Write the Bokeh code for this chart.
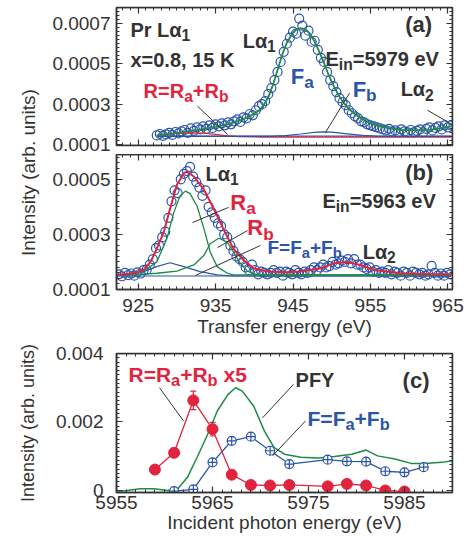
from math import pi
from bokeh.plotting import figure
from bokeh.models import (Range1d, LinearAxis, FixedTicker, Label, CustomJSTickFormatter,
                          Whisker, ColumnDataSource, TeeHead)
from bokeh.layouts import column, row
from bokeh.embed import file_html
from bokeh.resources import INLINE

# ---------------- data ----------------
# panel (a): E_in = 5979 eV
a_energy = [927.4, 927.8, 928.2, 928.6, 929.0, 929.4, 929.8, 930.2,
            930.6, 931.0, 931.4, 931.8, 932.2, 932.6, 933.0, 933.4,
            933.8, 934.2, 934.6, 935.0, 935.4, 935.8, 936.2, 936.6,
            937.0, 937.4, 937.8, 938.2, 938.6, 939.0, 939.4, 939.8,
            940.2, 940.6, 941.0, 941.4, 941.8, 942.2, 942.6, 943.0,
            943.4, 943.8, 944.2, 944.6, 945.0, 945.4, 945.8, 946.2,
            946.6, 947.0, 947.4, 947.8, 948.2, 948.6, 949.0, 949.4,
            949.8, 950.2, 950.6, 951.0, 951.4, 951.8, 952.2, 952.6,
            953.0, 953.4, 953.8, 954.2, 954.6, 955.0, 955.4, 955.8,
            956.2, 956.6, 957.0, 957.4, 957.8, 958.2, 958.6, 959.0,
            959.4, 959.8, 960.2, 960.6, 961.0, 961.4, 961.8, 962.2,
            962.6, 963.0, 963.4, 963.8, 964.2, 964.6, 965.0, 965.4]
a_intensity = [1.45e-4, 1.52e-4, 1.43e-4, 1.50e-4, 1.58e-4, 1.48e-4, 1.62e-4, 1.55e-4,
               1.65e-4, 1.72e-4, 1.58e-4, 1.80e-4, 1.68e-4, 1.85e-4, 1.75e-4, 1.90e-4,
               1.78e-4, 1.95e-4, 1.82e-4, 2.00e-4, 1.90e-4, 2.05e-4, 1.95e-4, 2.10e-4,
               2.00e-4, 2.15e-4, 2.25e-4, 2.12e-4, 2.35e-4, 2.30e-4, 2.50e-4, 2.45e-4,
               2.70e-4, 2.90e-4, 3.00e-4, 3.15e-4, 3.50e-4, 3.80e-4, 4.20e-4, 4.60e-4,
               5.10e-4, 5.60e-4, 6.00e-4, 6.30e-4, 6.60e-4, 6.50e-4, 7.25e-4, 6.90e-4,
               6.40e-4, 6.65e-4, 6.10e-4, 6.15e-4, 5.70e-4, 5.30e-4, 5.10e-4, 4.60e-4,
               4.20e-4, 3.90e-4, 3.60e-4, 3.30e-4, 3.10e-4, 2.95e-4, 2.70e-4, 2.55e-4,
               2.40e-4, 2.30e-4, 2.15e-4, 2.10e-4, 2.00e-4, 1.95e-4, 1.90e-4, 1.85e-4,
               1.80e-4, 1.75e-4, 1.70e-4, 1.78e-4, 1.65e-4, 1.70e-4, 1.60e-4, 1.75e-4,
               1.65e-4, 1.60e-4, 1.72e-4, 1.60e-4, 1.68e-4, 1.75e-4, 1.60e-4, 1.78e-4,
               1.85e-4, 1.70e-4, 1.82e-4, 1.90e-4, 1.75e-4, 1.95e-4, 1.85e-4, 1.95e-4]
a_fit_energy = [927.4, 929, 931, 933, 935, 937, 938.5, 939.5, 940.5, 941.2, 941.8, 942.4,
                943.0, 943.6, 944.2, 944.8, 945.4, 946.0, 946.6, 947.2, 947.8, 948.4,
                949.0, 949.6, 950.2, 950.8, 951.4, 952.0, 953.0, 954.0, 955.0, 956.0,
                957.5, 959.0, 961.0, 963.0, 964.5, 965.4]
a_fit_total = [1.45e-4, 1.53e-4, 1.63e-4, 1.74e-4, 1.87e-4, 2.05e-4, 2.25e-4, 2.42e-4,
               2.65e-4, 2.95e-4, 3.35e-4, 3.95e-4, 4.70e-4, 5.45e-4, 6.05e-4, 6.45e-4,
               6.70e-4, 6.78e-4, 6.72e-4, 6.50e-4, 6.10e-4, 5.60e-4, 5.05e-4, 4.45e-4,
               3.95e-4, 3.50e-4, 3.15e-4, 2.85e-4, 2.50e-4, 2.25e-4, 2.05e-4, 1.92e-4,
               1.80e-4, 1.72e-4, 1.70e-4, 1.75e-4, 1.83e-4, 1.90e-4]
a_r_energy = [927.4, 929, 930.5, 932, 933.5, 935, 936.5, 938, 941, 965.4]
a_r_value = [1.45e-4, 1.52e-4, 1.57e-4, 1.58e-4, 1.56e-4, 1.50e-4, 1.43e-4, 1.39e-4, 1.37e-4, 1.37e-4]
a_fb_energy = [927.4, 942, 944, 946, 948, 949, 950, 952, 954, 956, 965.4]
a_fb_value = [1.40e-4, 1.40e-4, 1.44e-4, 1.52e-4, 1.61e-4, 1.63e-4, 1.61e-4, 1.53e-4, 1.45e-4, 1.41e-4, 1.40e-4]
a_base_energy = [927.4, 965.4]
a_base_value = [1.42e-4, 1.42e-4]

# panel (b): E_in = 5963 eV
b_energy = [922.5, 922.9, 923.3, 923.7, 924.1, 924.5, 924.9, 925.3, 925.7,
            926.1, 926.5, 926.9, 927.3, 927.7, 928.1, 928.5, 928.9, 929.3,
            929.7, 930.1, 930.5, 930.9, 931.3, 931.7, 932.1, 932.5, 932.9,
            933.3, 933.7, 934.1, 934.5, 934.9, 935.3, 935.7, 936.1, 936.5,
            936.9, 937.3, 937.7, 938.1, 938.5, 938.9, 939.3, 939.7, 940.1,
            940.5, 940.9, 941.3, 941.7, 942.1, 942.5, 942.9, 943.3, 943.7,
            944.1, 944.5, 944.9, 945.3, 945.7, 946.1, 946.5, 946.9, 947.3,
            947.7, 948.1, 948.5, 948.9, 949.3, 949.7, 950.1, 950.5, 950.9,
            951.3, 951.7, 952.1, 952.5, 952.9, 953.3, 953.7, 954.1, 954.5,
            954.9, 955.3, 955.7, 956.1, 956.5, 956.9, 957.3, 957.7, 958.1,
            958.5, 958.9, 959.3, 959.7, 960.1, 960.5, 960.9, 961.3, 961.7,
            962.1, 962.5, 962.9, 963.3, 963.7, 964.1, 964.5, 964.9, 965.3]
b_intensity = [1.55e-4, 1.48e-4, 1.60e-4, 1.52e-4, 1.58e-4, 1.50e-4, 1.62e-4, 1.58e-4, 1.70e-4,
               1.72e-4, 1.90e-4, 2.10e-4, 2.50e-4, 2.60e-4, 2.90e-4, 3.10e-4, 3.60e-4, 4.20e-4,
               4.60e-4, 4.50e-4, 5.00e-4, 5.20e-4, 5.30e-4, 5.45e-4, 5.10e-4, 4.90e-4, 4.70e-4,
               4.40e-4, 4.60e-4, 4.00e-4, 3.80e-4, 3.60e-4, 3.40e-4, 3.30e-4, 3.00e-4, 2.90e-4,
               2.60e-4, 2.40e-4, 2.20e-4, 2.10e-4, 2.00e-4, 1.80e-4, 1.70e-4, 1.90e-4, 1.70e-4,
               1.55e-4, 1.65e-4, 1.60e-4, 1.55e-4, 1.60e-4, 1.70e-4, 1.60e-4, 1.65e-4, 1.50e-4,
               1.65e-4, 1.60e-4, 1.55e-4, 1.70e-4, 1.60e-4, 1.55e-4, 1.65e-4, 1.60e-4, 1.70e-4,
               1.80e-4, 1.70e-4, 1.80e-4, 1.90e-4, 1.80e-4, 1.85e-4, 2.00e-4, 1.90e-4, 1.95e-4,
               2.05e-4, 2.00e-4, 2.10e-4, 1.95e-4, 2.10e-4, 1.90e-4, 1.90e-4, 1.80e-4, 1.75e-4,
               1.80e-4, 1.65e-4, 1.70e-4, 1.60e-4, 1.65e-4, 1.60e-4, 1.70e-4, 1.55e-4, 1.65e-4,
               1.60e-4, 1.50e-4, 1.65e-4, 1.60e-4, 1.50e-4, 1.65e-4, 1.60e-4, 1.55e-4, 1.60e-4,
               1.50e-4, 1.55e-4, 1.86e-4, 1.60e-4, 1.50e-4, 1.58e-4, 1.50e-4, 1.60e-4, 1.55e-4]
b_fit_energy = [922.3, 924.4, 925.7, 926.6, 927.4, 928.3, 929.1, 930.0, 930.9, 931.3, 932.2,
                933.5, 934.8, 936.0, 937.3, 938.6, 939.9, 941.7, 944.0, 946.0, 948.6, 950.3,
                952.0, 953.7, 955.5, 958.9, 963.2, 965.4]
b_fit_total = [1.53e-4, 1.59e-4, 1.71e-4, 2.00e-4, 2.48e-4, 3.08e-4, 3.91e-4, 4.80e-4, 5.22e-4,
               5.28e-4, 5.10e-4, 4.62e-4, 3.91e-4, 3.20e-4, 2.48e-4, 2.07e-4, 1.77e-4, 1.65e-4,
               1.63e-4, 1.65e-4, 1.77e-4, 1.95e-4, 2.00e-4, 1.89e-4, 1.71e-4, 1.59e-4, 1.55e-4,
               1.55e-4]
b_ra_energy = [922.3, 923.5, 925.7, 927.4, 928.7, 929.6, 930.4, 931.1, 931.7, 932.6, 933.5,
               934.3, 935.2, 936.5, 937.3, 965.4]
b_ra_value = [1.52e-4, 1.53e-4, 1.67e-4, 2.00e-4, 2.84e-4, 3.79e-4, 4.39e-4, 4.57e-4, 4.48e-4,
              4.03e-4, 3.20e-4, 2.36e-4, 1.83e-4, 1.59e-4, 1.53e-4, 1.53e-4]
b_rb_energy = [922.3, 924.4, 927.4, 930.0, 932.2, 933.5, 934.3, 935.4, 936.5, 937.3, 938.2,
               939.1, 940.4, 965.4]
b_rb_value = [1.52e-4, 1.53e-4, 1.59e-4, 1.67e-4, 1.89e-4, 2.24e-4, 2.66e-4, 2.86e-4, 2.72e-4,
              2.36e-4, 1.95e-4, 1.67e-4, 1.53e-4, 1.53e-4]
b_f_energy = [922.3, 923.5, 925.7, 927.4, 929.1, 930.9, 933.0, 935.2, 937.3, 965.4]
b_f_value = [1.50e-4, 1.53e-4, 1.65e-4, 1.83e-4, 1.97e-4, 1.83e-4, 1.65e-4, 1.53e-4, 1.49e-4, 1.49e-4]
b_base_energy = [922.3, 965.4]
b_base_value = [1.49e-4, 1.49e-4]

# panel (c): intensities vs incident photon energy
c_r_energy = [5959, 5961, 5963, 5965, 5967, 5969, 5971, 5973, 5977, 5979, 5981, 5983, 5985]
c_r_value = [0.00061, 0.0011, 0.00263, 0.00179, 0.00046, 0.00016, 0.000145, 0.00016,
             0.00012, 0.00019, 0.000145, 0.0, -0.00003]
c_r_error = [0.00004, 0.0001, 0.00027, 0.0002, 0.00005, 0.00004, 0.00004, 0.00004,
             0.00004, 0.00004, 0.00004, 0.00004, 0.00004]
c_f_energy = [5961, 5963, 5965, 5967, 5969, 5971, 5973, 5977, 5979, 5981, 5983, 5985, 5987]
c_f_value = [-0.00002, 0.00003, 0.00082, 0.00145, 0.00157, 0.00116, 0.00077, 0.0009,
             0.00085, 0.00084, 0.00056, 0.00053, 0.00068]
pfy_energy = [5955.2, 5956.1, 5957.5, 5958.9, 5960.3, 5961.4, 5962.4, 5963.4, 5964.5, 5965.5,
              5966.6, 5967.4, 5968.1, 5969.3, 5970.4, 5971.4, 5972.5, 5974.2, 5976.0, 5977.7,
              5979.5, 5981.0, 5982.2, 5984.0, 5985.7, 5987.1, 5988.9, 5990.0]
pfy_value = [-0.00002, 0.0, 0.00005, 0.00005, 0.0, 0.00005, 0.00039, 0.00097, 0.00164, 0.00232,
             0.0028, 0.003, 0.0029, 0.00246, 0.00174, 0.00126, 0.00106, 0.00097, 0.00095, 0.00099,
             0.00106, 0.00118, 0.00101, 0.00092, 0.00079, 0.00079, 0.00082, 0.00087]

# tick labels
ab_x_ticks = [925, 935, 945, 955, 965]
a_y_ticks = [0.0001, 0.0003, 0.0005, 0.0007]
b_y_ticks = [0.0001, 0.0003, 0.0005]
c_x_ticks = [5955, 5965, 5975, 5985]
c_y_ticks = [0, 0.002, 0.004]

# ---------------- style ----------------
FONT = "Liberation Sans"
DARK = "#333333"
BLUE = "#2a55a8"
GREEN = "#1e8a45"
RED = "#e2233d"
TEXT_LIFT = 9  # px

BW = {' ': .278, '(': .333, ')': .333, '+': .584, ',': .278, '.': .278, '=': .584,
      'E': .667, 'F': .611, 'K': .722, 'L': .611, 'P': .667, 'R': .722, 'Y': .667,
      'a': .556, 'b': .611, 'c': .556, 'e': .556, 'i': .278, 'n': .611, 'r': .389,
      'V': .667, 'x': .556, 'α': .61}


def tw(s, fs):
    return sum(BW.get(ch, 0.556) for ch in s) * fs


def rich(p, x, y, parts, color, fs):
    off = 0.0
    for txt, sub in parts:
        size = fs * 0.78 if sub else fs
        lead = len(txt) - len(txt.lstrip(" "))
        off += tw(" " * lead, size)
        txt = txt.lstrip(" ")
        dy = TEXT_LIFT - (0.27 * fs if sub else 0)
        p.add_layout(Label(x=x, y=y, x_offset=off, y_offset=dy,
                           text=txt, text_font=FONT, text_font_style="bold",
                           text_font_size=f"{size:.1f}px", text_color=color,
                           text_align="left", text_baseline="alphabetic"))
        off += tw(txt, size)


def style_axis(ax, labels=True, standoff=6):
    ax.axis_line_color = DARK
    ax.axis_line_width = 1.5
    ax.major_tick_in = 6
    ax.major_tick_out = 0
    ax.minor_tick_in = 3
    ax.minor_tick_out = 0
    ax.major_tick_line_color = DARK
    ax.minor_tick_line_color = DARK
    ax.major_tick_line_width = 1.2
    ax.minor_tick_line_width = 1
    ax.major_label_text_font = FONT
    ax.major_label_text_font_size = "19px"
    ax.major_label_text_color = DARK
    ax.major_label_standoff = standoff
    ax.axis_label_text_font = FONT
    ax.axis_label_text_font_size = "19px"
    ax.axis_label_text_font_style = "normal"
    ax.axis_label_text_color = DARK
    if not labels:
        ax.formatter = CustomJSTickFormatter(code="return ''")
        ax.major_label_text_font_size = "1px"
        ax.major_label_standoff = 0


def make_fig(width, height, xr, yr, xt, yt, borders, hide_bottom=False):
    l, r, t, b = borders
    p = figure(width=width, height=height, x_range=Range1d(*xr), y_range=Range1d(*yr),
               output_backend="svg", toolbar_location=None, min_border=0,
               x_axis_location=None,
               min_border_left=l, min_border_right=r, min_border_top=t, min_border_bottom=b)
    p.title.visible = False
    left = p.left[0]
    left.ticker = yt
    if hide_bottom:
        bottom = LinearAxis(ticker=xt, fixed_location=yr[0])
    else:
        bottom = LinearAxis(ticker=xt)
    p.add_layout(bottom, "below")
    top = LinearAxis(ticker=xt, fixed_location=yr[1])
    right = LinearAxis(ticker=yt, fixed_location=xr[1])
    p.add_layout(top, "above")
    p.add_layout(right, "right")
    style_axis(top, labels=False)
    style_axis(right, labels=False)
    for g in p.grid:
        g.visible = False
    p.outline_line_color = DARK
    p.outline_line_width = 1.5
    p.background_fill_color = "white"
    p.border_fill_color = "white"
    return p, bottom, left


def leaders(p, segs):
    p.segment(x0=[s[0] for s in segs], y0=[s[1] for s in segs],
              x1=[s[2] for s in segs], y1=[s[3] for s in segs],
              line_color=DARK, line_width=1)


ab_xt = FixedTicker(ticks=ab_x_ticks, minor_ticks=list(range(922, 967)))
a_yt = FixedTicker(ticks=a_y_ticks, minor_ticks=[0.0001 + 0.00002 * k for k in range(35)])
b_yt = FixedTicker(ticks=b_y_ticks, minor_ticks=[0.0001 + 0.00002 * k for k in range(26)])
c_xt = FixedTicker(ticks=c_x_ticks, minor_ticks=list(range(5955, 5991)))
c_yt = FixedTicker(ticks=c_y_ticks, minor_ticks=[0.000125 * k for k in range(33)])

fmt4 = CustomJSTickFormatter(code="return tick.toFixed(4)")
fmt_c = CustomJSTickFormatter(code="return Math.abs(tick) < 1e-9 ? '0' : tick.toFixed(3)")
fmt_int = CustomJSTickFormatter(code="return tick.toFixed(0)")

# ---------------- panel (a) ----------------
pa, pa_b, pa_l = make_fig(417, 154, (922.2, 965.6), (0.000095, 0.00078), ab_xt, a_yt,
                          (68, 13, 7, 9), hide_bottom=True)
style_axis(pa_b, labels=False)
style_axis(pa_l, labels=True, standoff=6)
pa_l.formatter = fmt4
pa.scatter(a_energy, a_intensity, marker="circle", size=9, fill_color=None,
           line_color=BLUE, line_width=1.2)
pa.line(a_base_energy, a_base_value, line_color=BLUE, line_width=1.2)
pa.line(a_r_energy, a_r_value, line_color=RED, line_width=1.3)
pa.line(a_fb_energy, a_fb_value, line_color=BLUE, line_width=1.2)
pa.line(a_fit_energy, a_fit_total, line_color=GREEN, line_width=1.8)
leaders(pa, [(932.66, 0.00029, 936.54, 0.00015),
             (952.3, 0.000355, 949.2, 0.00016),
             (962.37, 0.00027, 965.08, 0.00021)])
rich(pa, 924.0, 0.000625, [("Pr Lα", False), ("1", True)], DARK, 20)
rich(pa, 924.0, 0.000475, [("x=0.8, 15 K", False)], DARK, 20)
rich(pa, 938.5, 0.00057, [("Lα", False), ("1", True)], DARK, 20)
rich(pa, 944.7, 0.000395, [("F", False), ("a", True)], BLUE, 22)
rich(pa, 949.2, 0.00048, [("E", False), ("in", True), ("=5979 eV", False)], DARK, 20)
rich(pa, 952.7, 0.00033, [("F", False), ("b", True)], BLUE, 22)
rich(pa, 958.9, 0.00033, [("Lα", False), ("2", True)], DARK, 20)
rich(pa, 959.5, 0.00065, [("(a)", False)], DARK, 22)
rich(pa, 925.7, 0.00032, [("R=R", False), ("a", True), ("+R", False), ("b", True)], RED, 20)

# ---------------- panel (b) ----------------
pb, pb_b, pb_l = make_fig(417, 188, (922.2, 965.6), (0.0001, 0.00059), ab_xt, b_yt,
                          (68, 13, 0, 53))
style_axis(pb_b, labels=True, standoff=9)
pb_b.formatter = fmt_int
pb_b.axis_label = "Transfer energy (eV)"
pb_b.axis_label_standoff = 1
style_axis(pb_l, labels=True, standoff=6)
pb_l.formatter = fmt4
pb.scatter(b_energy, b_intensity, marker="circle", size=9, fill_color=None,
           line_color=BLUE, line_width=1.2)
pb.line(b_base_energy, b_base_value, line_color=BLUE, line_width=1.2)
pb.line(b_f_energy, b_f_value, line_color=BLUE, line_width=1.2)
pb.line(b_ra_energy, b_ra_value, line_color=GREEN, line_width=1.3)
pb.line(b_rb_energy, b_rb_value, line_color=GREEN, line_width=1.3)
pb.line(b_fit_energy, b_fit_total, line_color=RED, line_width=2)
leaders(pb, [(936.67, 0.000398, 932.02, 0.000343),
             (939.12, 0.000314, 935.25, 0.000252),
             (940.8, 0.00026, 932.4, 0.000151)])
rich(pb, 933.7, 0.000488, [("Lα", False), ("1", True)], DARK, 20)
rich(pb, 959.5, 0.000492, [("(b)", False)], DARK, 22)
rich(pb, 948.8, 0.00039, [("E", False), ("in", True), ("=5963 eV", False)], DARK, 20)
rich(pb, 936.9, 0.000383, [("R", False), ("a", True)], RED, 22)
rich(pb, 939.1, 0.000292, [("R", False), ("b", True)], RED, 22)
rich(pb, 941.7, 0.00022, [("F=F", False), ("a", True), ("+F", False), ("b", True)], BLUE, 19)
rich(pb, 954.0, 0.000205, [("Lα", False), ("2", True)], DARK, 20)

# ---------------- panel (c) ----------------
pc, pc_b, pc_l = make_fig(465, 196, (5955, 5990), (-0.00006, 0.004), c_xt, c_yt,
                          (116, 13, 11, 46))
style_axis(pc_b, labels=True, standoff=3)
pc_b.formatter = fmt_int
pc_b.axis_label = "Incident photon energy (eV)"
pc_b.axis_label_standoff = 0
style_axis(pc_l, labels=True, standoff=13)
pc_l.formatter = fmt_c
pc_l.axis_label = "Intensity (arb. units)"
pc_l.axis_label_standoff = 15
pc_l.axis_label_text_font_size = "18px"

pc.line(pfy_energy, pfy_value, line_color=GREEN, line_width=1.5)
pc.line(c_f_energy, c_f_value, line_color=BLUE, line_width=1.3)
pc.scatter(c_f_energy, c_f_value, marker="circle_cross", size=9, fill_color="white",
           line_color=BLUE, line_width=1.2)
err_src = ColumnDataSource(dict(
    x=c_r_energy,
    upper=[v + e for v, e in zip(c_r_value, c_r_error)],
    lower=[v - e for v, e in zip(c_r_value, c_r_error)]))
pc.add_layout(Whisker(source=err_src, base="x", upper="upper", lower="lower",
                      line_color=RED, line_width=1.2,
                      upper_head=TeeHead(size=6, line_color=RED, line_width=1.2),
                      lower_head=TeeHead(size=6, line_color=RED, line_width=1.2)))
pc.line(c_r_energy, c_r_value, line_color=RED, line_width=1.3)
pc.scatter(c_r_energy, c_r_value, marker="circle", size=11, fill_color=RED, line_color=RED)
leaders(pc, [(5959.48, 0.0030, 5961.98, 0.00203),
             (5973.44, 0.0031, 5970.21, 0.00212),
             (5974.69, 0.00203, 5971.25, 0.00101)])
rich(pc, 5956.25, 0.00313, [("R=R", False), ("a", True), ("+R", False), ("b", True), (" x5", False)], RED, 21)
rich(pc, 5973.65, 0.00296, [("PFY", False)], DARK, 20)
rich(pc, 5984.8, 0.00296, [("(c)", False)], DARK, 22)
rich(pc, 5974.9, 0.00183, [("F=F", False), ("a", True), ("+F", False), ("b", True)], BLUE, 21)

# ---------------- shared y label for (a)+(b) ----------------
lab = figure(width=48, height=342, x_range=Range1d(0, 1), y_range=Range1d(0, 1),
             x_axis_type=None, y_axis_type=None, toolbar_location=None,
             output_backend="svg", min_border=0)
lab.title.visible = False
lab.outline_line_color = None
for g in lab.grid:
    g.visible = False
lab.add_layout(Label(x=0.583, y=0.497, text="Intensity (arb. units)", angle=pi / 2,
                     text_align="center", text_baseline="middle", text_font=FONT,
                     text_font_size="19px", text_color=DARK))

layout = column(row(lab, column(pa, pb)), pc)
open("out.html", "w").write(file_html(layout, INLINE))
